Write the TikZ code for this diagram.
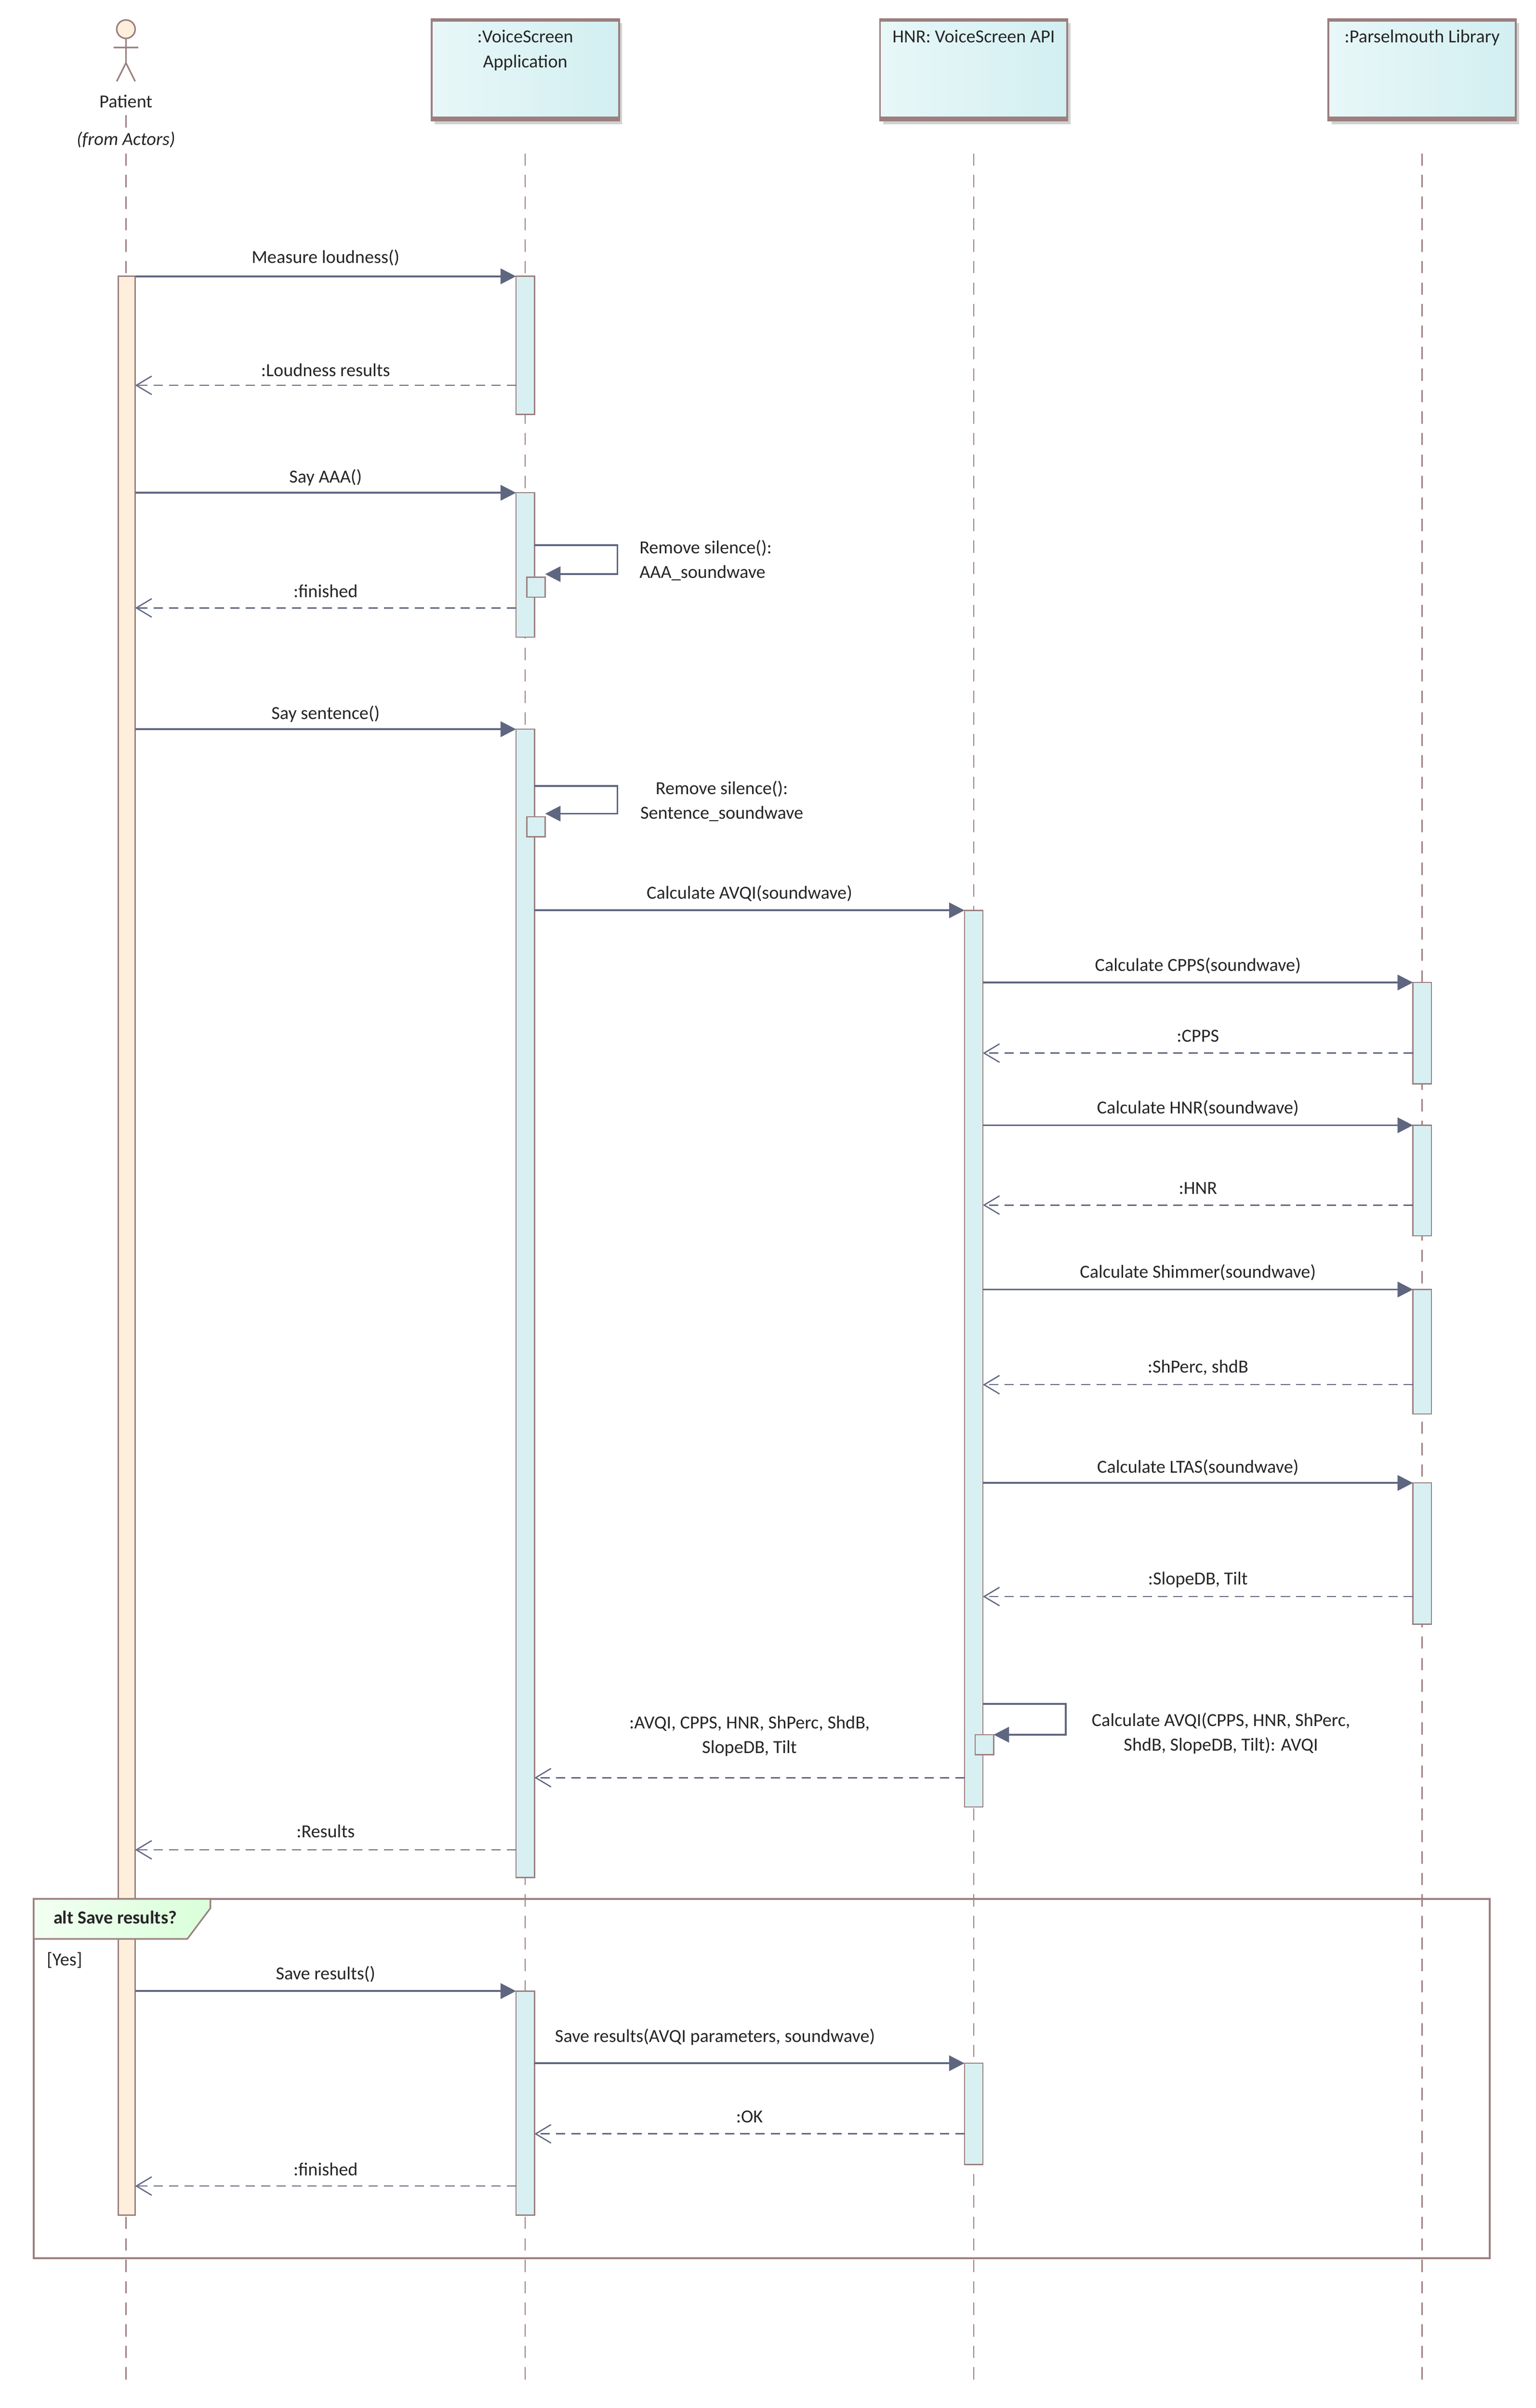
\documentclass[tikz,border=0pt]{standalone}
\usepackage{fontspec}
\setmainfont{Carlito}
\usetikzlibrary{arrows.meta}
\definecolor{ln}{HTML}{5F6680}
\definecolor{ll}{HTML}{9C7F80}
\definecolor{act}{HTML}{D8F0F2}
\definecolor{pat}{HTML}{FDEFDC}
\definecolor{hd}{HTML}{D2EFF1}
\tikzset{
 call/.style={draw=ln,line width=0.6pt,-{Triangle[length=5pt,width=5pt]}},
 ret/.style={draw=ln,line width=0.4pt,dash pattern=on 3pt off 2pt,-{Straight Barb[length=5pt,width=6pt,line width=0.4pt]}},
 lbl/.style={font=\fontsize{6}{7}\selectfont,text=black!85,inner sep=0.5pt},
 lifeline/.style={draw=ll,line width=0.4pt,dash pattern=on 4pt off 3pt},
 actbox/.style={draw=ll,line width=0.4pt,fill=act},
 head/.style={draw=ll,line width=0.6pt,left color=hd!50,right color=hd,minimum width=61pt,minimum height=33pt,anchor=north,inner sep=0pt,text depth=0pt},
}
\newcommand\msg[6]{% style, x1, x2, y, label-y, label
 \coordinate (m#4a) at (#2,#4); \coordinate (m#4b) at (#3,#4);
 \draw[#1] (m#4a) -- (m#4b);
 \node[lbl] (l#4) at ({(#2+#3)/2},#5) {#6};}
\begin{document}
\begin{tikzpicture}[x=0.5pt,y=-0.5pt]
\fill[white] (0,0) rectangle (1000,1568.6);
\useasboundingbox (0,0) rectangle (1000,1568.6);
% lifelines
\foreach \x in {82,342,634,926} \draw[lifeline] (\x,100) -- (\x,1552);
\draw[lifeline] (82,75) -- (82,84);
% headers
\foreach \n/\x/\t in {app/342/{\shortstack{:VoiceScreen\\[1pt]Application}},api/634/{HNR: VoiceScreen API},lib/926/{:Parselmouth Library}}{
 \fill[black!18] (\x-59,15) rectangle (\x+63,81);
 \node[head,minimum width=61pt] (\n) at (\x,12) {};
 \draw[ll,line width=1.2pt] (\x-61,13) -- (\x+61,13) (\x-61,77) -- (\x+61,77);
 \node[lbl,anchor=north] at (\x,18) {\t};
}
% actor
\draw[ll,fill=pat,line width=0.5pt] (82,19) circle (6);
\draw[ll,line width=0.5pt] (82,25) -- (82,41) (74,31) -- (90,31) (82,41) -- (76,53) (82,41) -- (88,53);
\node[lbl] (patient) at (82,66) {Patient};
\node[lbl] at (82,91) {\itshape (from Actors)};
% activations
\draw[draw=ll,fill=pat,line width=0.4pt] (77,180) rectangle (88,1443);
\foreach \a/\b in {180/270,321/415,475/1223,1297/1443} \draw[actbox] (336,\a) rectangle (348,\b);
\foreach \a/\b in {593/1177,1344/1410} \draw[actbox] (628,\a) rectangle (640,\b);
\foreach \a/\b in {640/706,733/805,840/921,966/1058} \draw[actbox] (920,\a) rectangle (932,\b);
\draw[actbox] (343,376) rectangle (355,389);
\draw[actbox] (343,532) rectangle (355,545);
\draw[actbox] (635,1130) rectangle (647,1143);
% alt frame
\draw[draw=ll,line width=0.6pt] (22,1237) rectangle (970,1471);
\draw[draw=ll,line width=0.5pt,left color=green!5,right color=green!15] (22,1237) -- (137,1237) -- (137,1243) -- (122,1263) -- (22,1263) -- cycle;
\node[lbl,font=\fontsize{6}{7}\selectfont\bfseries] at (75,1249) {alt Save results?};
\node[lbl] at (42,1277) {[Yes]};
% messages
\msg{call}{88}{336}{180}{168}{Measure loudness()}
\msg{ret}{336}{88}{251}{241}{:Loudness results}
\msg{call}{88}{336}{321}{311}{Say AAA()}
\coordinate (s1a) at (348,355); \coordinate (s1b) at (355,374);
\draw[call] (s1a) -- (402,355) -- (402,374) -- (s1b);
\node[lbl,align=left,anchor=west] (s1) at (415,365) {Remove silence():\\[1pt]AAA\_soundwave};
\msg{ret}{336}{88}{396}{385}{:finished}
\msg{call}{88}{336}{475}{465}{Say sentence()}
\coordinate (s2a) at (348,512); \coordinate (s2b) at (355,530);
\draw[call] (s2a) -- (402,512) -- (402,530) -- (s2b);
\node[lbl,align=center] (s2) at (470,522) {Remove silence():\\[1pt]Sentence\_soundwave};
\msg{call}{348}{628}{593}{582}{Calculate AVQI(soundwave)}
\msg{call}{640}{920}{640}{629}{Calculate CPPS(soundwave)}
\msg{ret}{920}{640}{686}{675}{:CPPS}
\msg{call}{640}{920}{733}{722}{Calculate HNR(soundwave)}
\msg{ret}{920}{640}{785}{774}{:HNR}
\msg{call}{640}{920}{840}{829}{Calculate Shimmer(soundwave)}
\msg{ret}{920}{640}{902}{891}{:ShPerc, shdB}
\msg{call}{640}{920}{966}{956}{Calculate LTAS(soundwave)}
\msg{ret}{920}{640}{1040}{1029}{:SlopeDB, Tilt}
\coordinate (s3a) at (640,1110); \coordinate (s3b) at (647,1130);
\draw[call] (s3a) -- (694,1110) -- (694,1130) -- (s3b);
\node[lbl,align=center] (s3) at (795,1129) {Calculate AVQI(CPPS, HNR, ShPerc,\\[1pt]ShdB, SlopeDB, Tilt): AVQI};
\coordinate (r1a) at (628,1158); \coordinate (r1b) at (348,1158);
\draw[ret] (r1a) -- (r1b);
\node[lbl,align=center] (r1) at (488,1131) {:AVQI, CPPS, HNR, ShPerc, ShdB,\\[1pt]SlopeDB, Tilt};
\msg{ret}{336}{88}{1205}{1193}{:Results}
\msg{call}{88}{336}{1297}{1286}{Save results()}
\coordinate (m1344a) at (348,1344); \coordinate (m1344b) at (628,1344);
\draw[call] (m1344a) -- (m1344b);
\node[lbl,anchor=west] (l1344) at (360,1327) {Save results(AVQI parameters, soundwave)};
\msg{ret}{628}{348}{1390}{1379}{:OK}
\msg{ret}{336}{88}{1424}{1413}{:finished}
\end{tikzpicture}
\end{document}
